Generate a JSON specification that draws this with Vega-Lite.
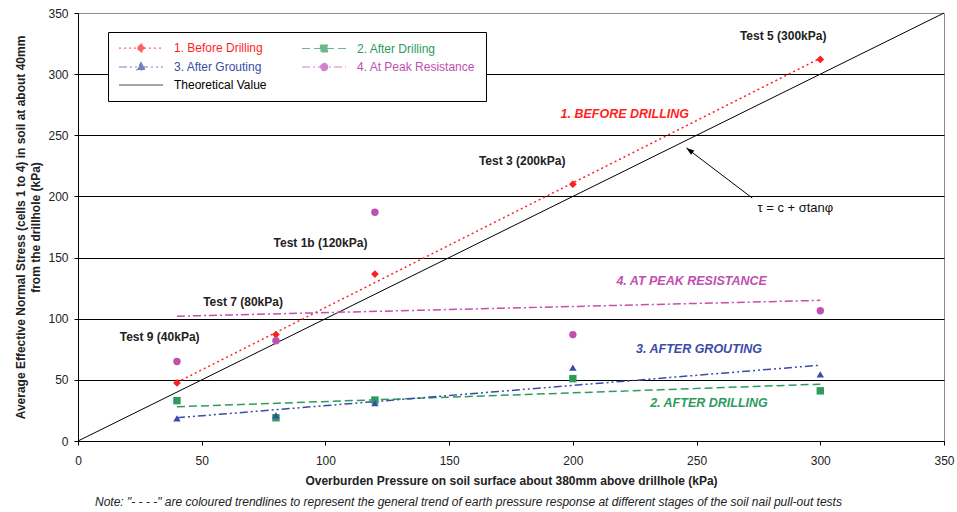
{
  "$schema": "https://vega.github.io/schema/vega-lite/v6.json",
  "width": 866,
  "height": 428,
  "autosize": {"type": "none"},
  "padding": {"left": 78, "top": 13, "right": 13, "bottom": 71},
  "background": "white",
  "config": {"font": "Liberation Sans", "view": {"stroke": "#8c8c8c", "strokeWidth": 1}},
  "title": {
    "text": "Note:  \"- - - -\"  are coloured trendlines to represent the general trend of earth pressure response at different stages of the soil nail pull-out tests",
    "orient": "bottom", "anchor": "start", "frame": "group", "dx": 17, "offset": 11,
    "fontSize": 12, "fontStyle": "italic", "fontWeight": "normal", "color": "#222", "font": "Liberation Sans"
  },
  "datasets": {
    "points": [
      {"series": "1. Before Drilling", "pressure": 40, "stress": 47.5},
      {"series": "1. Before Drilling", "pressure": 80, "stress": 87},
      {"series": "1. Before Drilling", "pressure": 120, "stress": 136.5},
      {"series": "1. Before Drilling", "pressure": 200, "stress": 210},
      {"series": "1. Before Drilling", "pressure": 300, "stress": 312},
      {"series": "2. After Drilling", "pressure": 40, "stress": 33},
      {"series": "2. After Drilling", "pressure": 80, "stress": 19},
      {"series": "2. After Drilling", "pressure": 120, "stress": 33.5},
      {"series": "2. After Drilling", "pressure": 200, "stress": 51},
      {"series": "2. After Drilling", "pressure": 300, "stress": 41},
      {"series": "3. After Grouting", "pressure": 40, "stress": 18.5},
      {"series": "3. After Grouting", "pressure": 80, "stress": 21},
      {"series": "3. After Grouting", "pressure": 120, "stress": 31},
      {"series": "3. After Grouting", "pressure": 200, "stress": 60},
      {"series": "3. After Grouting", "pressure": 300, "stress": 54.5},
      {"series": "4. At Peak Resistance", "pressure": 40, "stress": 65},
      {"series": "4. At Peak Resistance", "pressure": 80, "stress": 82},
      {"series": "4. At Peak Resistance", "pressure": 120, "stress": 187},
      {"series": "4. At Peak Resistance", "pressure": 200, "stress": 87},
      {"series": "4. At Peak Resistance", "pressure": 300, "stress": 106.5}
    ],
    "trends": [
      {"series": "1. Before Drilling", "pressure": 40, "stress": 48},
      {"series": "1. Before Drilling", "pressure": 300, "stress": 313},
      {"series": "2. After Drilling", "pressure": 40, "stress": 28},
      {"series": "2. After Drilling", "pressure": 300, "stress": 46.5},
      {"series": "3. After Grouting", "pressure": 40, "stress": 19},
      {"series": "3. After Grouting", "pressure": 300, "stress": 62},
      {"series": "4. At Peak Resistance", "pressure": 40, "stress": 102},
      {"series": "4. At Peak Resistance", "pressure": 300, "stress": 115}
    ],
    "theory": [
      {"pressure": 0, "stress": 0},
      {"pressure": 350, "stress": 350}
    ],
    "tests": [
      {"text": "Test 5 (300kPa)", "pressure": 285, "stress": 331},
      {"text": "Test 3 (200kPa)", "pressure": 179.5, "stress": 229},
      {"text": "Test 1b (120kPa)", "pressure": 98, "stress": 162},
      {"text": "Test 7 (80kPa)", "pressure": 66.7, "stress": 113.7},
      {"text": "Test 9 (40kPa)", "pressure": 33, "stress": 85}
    ],
    "serieslabels": [
      {"text": "1. BEFORE DRILLING", "series": "1. Before Drilling", "pressure": 221, "stress": 267},
      {"text": "4. AT PEAK RESISTANCE", "series": "4. At Peak Resistance", "pressure": 248, "stress": 131},
      {"text": "3. AFTER GROUTING", "series": "3. After Grouting", "pressure": 251, "stress": 75},
      {"text": "2. AFTER DRILLING", "series": "2. After Drilling", "pressure": 255, "stress": 31}
    ],
    "arrow": [
      {"pressure": 272.5, "stress": 198.7, "pressure2": 245.9, "stress2": 239.6}
    ],
    "formula": [
      {"text": "τ = c + σtanφ", "pressure": 274.6, "stress": 190.5}
    ]
  },
  "layer": [
    {
      "data": {"name": "theory"},
      "mark": {"type": "line", "color": "#000", "strokeWidth": 1},
      "encoding": {
        "x": {
          "field": "pressure", "type": "quantitative",
          "scale": {"domain": [0, 350], "nice": false, "zero": false},
          "axis": {
            "title": "Overburden Pressure on soil surface about 380mm above drillhole (kPa)",
            "values": [0, 50, 100, 150, 200, 250, 300, 350],
            "grid": false, "domainColor": "#000", "tickColor": "#000", "tickSize": 4,
            "labelFontSize": 12, "labelColor": "#222", "labelPadding": 10, "labelFlush": false,
            "titleFontSize": 12, "titleFontWeight": "bold", "titleColor": "#222", "titlePadding": 9
          }
        },
        "y": {
          "field": "stress", "type": "quantitative",
          "scale": {"domain": [0, 350], "nice": false, "zero": false},
          "axis": {
            "title": ["Average Effective Normal Stress (cells 1 to 4) in soil at about 40mm", "from the drillhole (kPa)"],
            "values": [0, 50, 100, 150, 200, 250, 300, 350],
            "grid": true,
            "gridColor": {"condition": {"test": "datum.value >= 350", "value": "#8c8c8c"}, "value": "#000"},
            "gridOpacity": 1, "gridWidth": 1,
            "domainColor": "#000", "tickColor": "#000", "tickSize": 4,
            "labelFontSize": 12, "labelColor": "#222", "labelPadding": 6,
            "titleFontSize": 12, "titleFontWeight": "bold", "titleColor": "#222",
            "titleX": -63, "titleY": 214, "titleAngle": -90, "titleBaseline": "top", "titleAlign": "center", "titleLineHeight": 15
          }
        }
      }
    },
    {
      "data": {"values": []},
      "mark": {"type": "point", "filled": true},
      "encoding": {
        "color": {
          "field": "series", "type": "nominal",
          "scale": {
            "domain": ["1. Before Drilling", "2. After Drilling", "3. After Grouting", "4. At Peak Resistance", "Theoretical Value"],
            "range": ["#ff1f1f", "#2e9b5e", "#3a4ca8", "#c04fb0", "#000000"]
          },
          "legend": {
            "title": null, "orient": "none", "legendX": 30, "legendY": 19,
            "direction": "horizontal", "columns": 2, "columnPadding": 32, "rowPadding": 5, "padding": 10,
            "fillColor": "white", "strokeColor": "#000",
            "symbolSize": 100, "symbolStrokeWidth": 1.2, "labelOffset": 44, "labelFontSize": 12, "labelFont": "Liberation Sans",
            "labelColor": {"expr": "scale('color', datum.value)"}
          }
        },
        "shape": {
          "field": "series", "type": "nominal",
          "scale": {
            "domain": ["1. Before Drilling", "2. After Drilling", "3. After Grouting", "4. At Peak Resistance", "Theoretical Value"],
            "range": [
              "M-1,0H7.8M3.4,-0.9L4.2,0L3.4,0.9L2.6,0Z",
              "M-1,0H7.8M2.7,-0.7H4.1V0.7H2.7Z",
              "M-1,0H7.8M3.4,-0.9L4.2,0.6H2.6Z",
              "M-1,0H7.8M4.15,0A0.75,0.75,0,1,1,2.65,0A0.75,0.75,0,1,1,4.15,0Z",
              "M-1,0H7.8"
            ]
          },
          "legend": {
            "title": null, "orient": "none", "legendX": 30, "legendY": 19,
            "direction": "horizontal", "columns": 2, "columnPadding": 32, "rowPadding": 5, "padding": 10,
            "fillColor": "white", "strokeColor": "#000",
            "symbolSize": 100, "symbolStrokeWidth": 1.2, "labelOffset": 44, "labelFontSize": 12, "labelFont": "Liberation Sans",
            "labelColor": {"expr": "scale('color', datum.value)"}
          }
        },
        "strokeDash": {
          "field": "series", "type": "nominal",
          "scale": {
            "domain": ["1. Before Drilling", "2. After Drilling", "3. After Grouting", "4. At Peak Resistance", "Theoretical Value"],
            "range": [[2, 3], [8, 4], [8, 3, 2, 3, 2, 3], [8, 3, 2, 3], [1, 0]]
          },
          "legend": {
            "title": null, "orient": "none", "legendX": 30, "legendY": 19,
            "direction": "horizontal", "columns": 2, "columnPadding": 32, "rowPadding": 5, "padding": 10,
            "fillColor": "white", "strokeColor": "#000",
            "symbolSize": 100, "symbolStrokeWidth": 1.2, "labelOffset": 44, "labelFontSize": 12, "labelFont": "Liberation Sans",
            "labelColor": {"expr": "scale('color', datum.value)"}
          }
        }
      }
    },
    {
      "data": {"name": "trends"},
      "mark": {"type": "line", "strokeWidth": 1.5},
      "encoding": {
        "x": {"field": "pressure", "type": "quantitative"},
        "y": {"field": "stress", "type": "quantitative"},
        "color": {"field": "series", "type": "nominal"},
        "strokeDash": {"field": "series", "type": "nominal"}
      }
    },
    {
      "data": {"name": "points"},
      "transform": [{"filter": "datum.series === '1. Before Drilling'"}],
      "mark": {"type": "point", "shape": "diamond", "filled": true, "size": 60, "opacity": 1},
      "encoding": {
        "x": {"field": "pressure", "type": "quantitative"},
        "y": {"field": "stress", "type": "quantitative"},
        "color": {"field": "series", "type": "nominal"}
      }
    },
    {
      "data": {"name": "points"},
      "transform": [{"filter": "datum.series === '2. After Drilling'"}],
      "mark": {"type": "point", "shape": "square", "filled": true, "size": 55, "opacity": 1},
      "encoding": {
        "x": {"field": "pressure", "type": "quantitative"},
        "y": {"field": "stress", "type": "quantitative"},
        "color": {"field": "series", "type": "nominal"}
      }
    },
    {
      "data": {"name": "points"},
      "transform": [{"filter": "datum.series === '3. After Grouting'"}],
      "mark": {"type": "point", "shape": "triangle-up", "filled": true, "size": 55, "opacity": 1},
      "encoding": {
        "x": {"field": "pressure", "type": "quantitative"},
        "y": {"field": "stress", "type": "quantitative"},
        "color": {"field": "series", "type": "nominal"}
      }
    },
    {
      "data": {"name": "points"},
      "transform": [{"filter": "datum.series === '4. At Peak Resistance'"}],
      "mark": {"type": "point", "shape": "circle", "filled": true, "size": 55, "opacity": 1},
      "encoding": {
        "x": {"field": "pressure", "type": "quantitative"},
        "y": {"field": "stress", "type": "quantitative"},
        "color": {"field": "series", "type": "nominal"}
      }
    },
    {
      "data": {"name": "arrow"},
      "mark": {"type": "rule", "color": "#000", "strokeWidth": 1},
      "encoding": {
        "x": {"field": "pressure", "type": "quantitative"},
        "y": {"field": "stress", "type": "quantitative"},
        "x2": {"field": "pressure2"},
        "y2": {"field": "stress2"}
      }
    },
    {
      "data": {"name": "arrow"},
      "mark": {"type": "point", "shape": "M0,0L-0.9,2.6L0.9,2.6Z", "filled": true, "color": "#000", "size": 36, "angle": 307, "opacity": 1},
      "encoding": {
        "x": {"field": "pressure2", "type": "quantitative"},
        "y": {"field": "stress2", "type": "quantitative"}
      }
    },
    {
      "data": {"name": "tests"},
      "mark": {"type": "text", "fontSize": 12, "fontWeight": "bold", "color": "#222", "align": "center", "baseline": "middle"},
      "encoding": {
        "x": {"field": "pressure", "type": "quantitative"},
        "y": {"field": "stress", "type": "quantitative"},
        "text": {"field": "text"}
      }
    },
    {
      "data": {"name": "serieslabels"},
      "mark": {"type": "text", "fontSize": 12.5, "fontWeight": "bold", "fontStyle": "italic", "align": "center", "baseline": "middle"},
      "encoding": {
        "x": {"field": "pressure", "type": "quantitative"},
        "y": {"field": "stress", "type": "quantitative"},
        "text": {"field": "text"},
        "color": {"field": "series", "type": "nominal"}
      }
    },
    {
      "data": {"name": "formula"},
      "mark": {"type": "text", "fontSize": 13, "color": "#111", "align": "left", "baseline": "middle"},
      "encoding": {
        "x": {"field": "pressure", "type": "quantitative"},
        "y": {"field": "stress", "type": "quantitative"},
        "text": {"field": "text"}
      }
    }
  ]
}
